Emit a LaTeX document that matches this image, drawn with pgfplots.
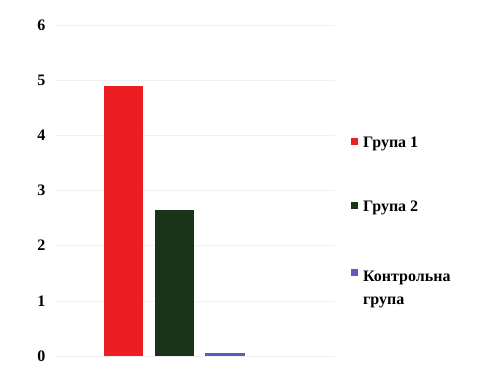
\documentclass[border=0pt]{standalone}
\usepackage{pgfplots}
\pgfplotsset{compat=1.18}
\usepackage{fontspec}
\setmainfont{Liberation Serif}
\definecolor{cred}{RGB}{236,30,36}
\definecolor{cgreen}{RGB}{26,52,26}
\definecolor{cblue}{RGB}{92,92,190}
\begin{document}
\begin{tikzpicture}[x=1pt,y=1pt]
\useasboundingbox (0,0) rectangle (498,365);
\begin{axis}[at={(55pt,9pt)}, anchor=south west, scale only axis,
  width=280pt, height=331pt,
  xmin=-0.35, xmax=5.16, ymin=0, ymax=6,
  ytick={0,1,2,3,4,5,6}, xtick=\empty,
  axis line style={draw=none}, major tick length=0pt,
  ymajorgrids, grid style={gray!12},
  yticklabel style={font=\fontsize{16}{19}\selectfont\bfseries, xshift=-6pt},
  /pgf/number format/assume math mode=true,
  ybar, bar width=0.78,
  legend cell align=left,
  legend style={at={(1.057,0.665)}, anchor=north west, draw=none, fill=none,
    inner sep=0pt, row sep=50pt, column sep=4pt,
    font=\fontsize{16}{23}\selectfont\bfseries,
    nodes={inner sep=1pt}},
  legend image code/.code={\fill[#1] (0pt,-1.5pt) rectangle (7pt,5.5pt);},
]
\addplot[fill=cred, draw=none, bar shift=0pt] coordinates {(1,4.89)};
\addlegendentry{Група 1}
\addplot[fill=cgreen, draw=none, bar shift=0pt] coordinates {(2,2.65)};
\addlegendentry{Група 2}
\addplot[fill=cblue, draw=none, bar shift=0pt] coordinates {(3,0.05)};
\addlegendentry{\begin{tabular}[t]{@{}l@{}}Контрольна\\група\end{tabular}}
\end{axis}
\end{tikzpicture}
\end{document}
